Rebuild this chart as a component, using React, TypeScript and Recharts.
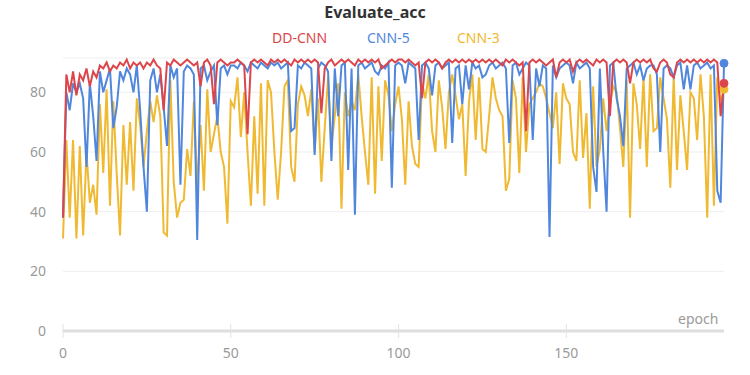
import React from "react";
import { LineChart, Line, XAxis, YAxis, CartesianGrid } from "recharts";

// epoch index 0..197
const epochs = Array.from({ length: 198 }, (_, i) => i);

const ddCnn = [
  38, 86, 80, 87, 79, 86, 84, 88, 82, 87, 85, 89, 88, 90, 87, 89, 88, 90, 89, 91, 88, 90, 89, 90, 88,
  90, 89, 91, 89, 88, 74, 90, 89, 91, 90, 89, 90, 91, 90, 89, 90, 82, 90, 91, 89, 76, 90, 91, 90, 89, 90,
  90, 91, 90, 89, 66, 90, 91, 90, 91, 90, 89, 91, 90, 91, 90, 91, 90, 89, 91, 90, 91, 90, 91, 90, 91,
  90, 73, 88, 90, 91, 89, 90, 91, 90, 91, 90, 89, 91, 90, 91, 90, 91, 90, 91, 88, 89, 90, 91, 90, 91,
  91, 90, 91, 90, 89, 90, 78, 90, 91, 90, 91, 90, 88, 90, 91, 90, 91, 90, 91, 90, 91, 90, 91, 90, 91,
  90, 91, 90, 91, 90, 89, 91, 90, 91, 90, 89, 90, 67, 90, 91, 90, 91, 90, 89, 90, 91, 85, 90, 91, 90,
  91, 87, 90, 91, 90, 91, 90, 89, 91, 90, 91, 90, 72, 90, 91, 90, 91, 90, 83, 90, 91, 90, 91, 90, 91,
  88, 87, 90, 91, 90, 86, 85, 90, 91, 90, 91, 90, 91, 90, 91, 90, 91, 90, 91, 90, 72, 83,
];

const cnn5 = [
  38, 80, 74, 83, 80, 83, 78, 55, 83, 72, 57, 87, 80, 84, 88, 68, 75, 87, 84, 88, 86, 80, 89, 74, 55,
  40, 84, 88, 80, 86, 75, 62, 89, 85, 88, 49, 87, 89, 88, 86, 30.5, 88, 89, 84, 87, 89, 69, 88, 89, 86, 89,
  89, 88, 90, 89, 87, 90, 89, 88, 90, 89, 88, 90, 89, 90, 88, 89, 90, 67, 68, 89, 88, 90, 89, 88, 59,
  88, 90, 89, 87, 57, 88, 72, 89, 90, 54, 88, 39, 89, 90, 88, 89, 90, 87, 86, 89, 88, 90, 48, 89, 90,
  89, 83, 90, 89, 88, 64, 89, 90, 88, 79, 89, 90, 88, 89, 90, 63, 88, 89, 76, 89, 81, 90, 88, 89, 85,
  86, 89, 90, 88, 89, 90, 88, 63, 89, 90, 86, 88, 90, 89, 64, 88, 82, 89, 88, 31.5, 89, 85, 88, 89, 90,
  89, 83, 90, 88, 89, 90, 88, 55, 46.6, 88, 60.5, 40, 89, 90, 78, 72, 62, 88, 89, 90, 86, 89, 84, 88, 89,
  89, 86, 60, 88, 89, 88, 85, 89, 90, 81, 89, 81, 89, 90, 88, 89, 90, 88, 89, 47, 43, 89.7,
];

const cnn3 = [
  31, 64, 38, 64, 31, 62, 32, 60, 43, 49, 39, 76, 53, 81, 42, 77, 53, 32, 69, 49, 70, 47, 78, 69, 55,
  67, 77, 70, 79, 72, 33, 32, 84, 50, 38, 43, 44, 61, 52, 77, 48, 69, 47, 81, 60, 66, 72, 60, 55, 36, 77,
  75, 85, 65, 80, 60, 42, 72, 46, 83, 42, 84, 80, 60, 44, 60, 82, 84, 55, 50, 76, 82, 79, 72, 81, 60,
  78, 50, 68, 85, 62, 72, 83, 41, 80, 72, 77, 74, 86, 72, 60, 49, 85, 46, 82, 57, 84, 79, 67, 76, 82,
  71, 49, 77, 62, 56, 55, 83, 78, 86, 67, 60, 84, 75, 61, 80, 86, 79, 71, 76, 52, 77, 86, 64, 85, 61,
  60, 72, 85, 78, 74, 72, 47, 51, 84, 78, 53, 85, 60, 76, 78, 80, 83, 82, 78, 73, 68, 80, 56, 83, 78,
  76, 60, 57, 84, 58, 73, 41, 82, 55, 61, 78, 67, 76, 82, 80, 68, 55, 84, 38, 83, 76, 61, 85, 55, 86,
  67, 68, 85, 78, 71, 48, 85, 54, 79, 67, 54, 80, 78, 64, 86, 72, 38, 86, 42, 85, 77, 81,
];

const xTicks = [0, 50, 100, 150];
const yTicks = [0, 20, 40, 60, 80];

const series = [
  { key: "ddcnn", name: "DD-CNN", color: "#dc464b", left: 272 },
  { key: "cnn5", name: "CNN-5", color: "#5087dc", left: 367 },
  { key: "cnn3", name: "CNN-3", color: "#f0b932", left: 457 },
];

const data = epochs.map((e, i) => ({
  epoch: e,
  ddcnn: ddCnn[i],
  cnn5: cnn5[i],
  cnn3: cnn3[i],
}));

const FONT = "'Noto Sans', 'DejaVu Sans', sans-serif";
const lastIdx = data.length - 1;

// only the final point gets a marker
const endDot = (color: string) => (props: any) => {
  if (props.index !== lastIdx) return <g key={`d-${props.index}`} />;
  return <circle key={`d-${props.index}`} cx={props.cx} cy={props.cy} r={4} fill={color} stroke={color} />;
};

const XTick = (props: any) => {
  const { x, y, payload } = props;
  return (
    <g>
      <line x1={x} x2={x} y1={y - 7} y2={y + 7} stroke="#e3e3e3" strokeWidth={1} />
      <text x={x} y={y + 27} textAnchor="middle" fill="#9a9a9a" fontSize={14} fontFamily={FONT}>
        {payload.value}
      </text>
    </g>
  );
};

export default function App() {
  return (
    <div style={{ position: "absolute", left: 0, top: 0, width: 750, height: 375, background: "#fff", fontFamily: FONT }}>
      <div style={{ position: "absolute", top: 1, width: 750, textAlign: "center", fontSize: 16, fontWeight: 700, color: "#333" }}>
        Evaluate_acc
      </div>
      {series.map((s) => (
        <span key={s.key} style={{ position: "absolute", top: 28, left: s.left, fontSize: 14, color: s.color }}>
          {s.name}
        </span>
      ))}
      <div style={{ position: "absolute", left: 678, top: 309, fontSize: 14, color: "#9a9a9a" }}>epoch</div>
      <LineChart
        width={750}
        height={375}
        data={data}
        margin={{ top: 58, right: 26, bottom: 14, left: 8 }}
      >
        <CartesianGrid stroke="#eeeeee" vertical={false} />
        <XAxis
          dataKey="epoch"
          type="number"
          domain={[0, 197]}
          ticks={xTicks}
          height={30}
          axisLine={{ stroke: "#dedede", strokeWidth: 3 }}
          tickLine={false}
          tickSize={0}
          tickMargin={0}
          tick={<XTick />}
          interval={0}
        />
        <YAxis
          type="number"
          domain={[0, 91.5]}
          ticks={yTicks}
          width={55}
          axisLine={false}
          tickLine={false}
          tickSize={0}
          tickMargin={17}
          tick={{ fill: "#9a9a9a", fontSize: 14, fontFamily: FONT }}
        />
        <Line type="linear" dataKey="cnn3" name="CNN-3" stroke="#f0b932" strokeWidth={2} dot={endDot("#f0b932")} isAnimationActive={false} />
        <Line type="linear" dataKey="cnn5" name="CNN-5" stroke="#5087dc" strokeWidth={2} dot={endDot("#5087dc")} isAnimationActive={false} />
        <Line type="linear" dataKey="ddcnn" name="DD-CNN" stroke="#dc464b" strokeWidth={2} dot={endDot("#dc464b")} isAnimationActive={false} />
      </LineChart>
    </div>
  );
}
